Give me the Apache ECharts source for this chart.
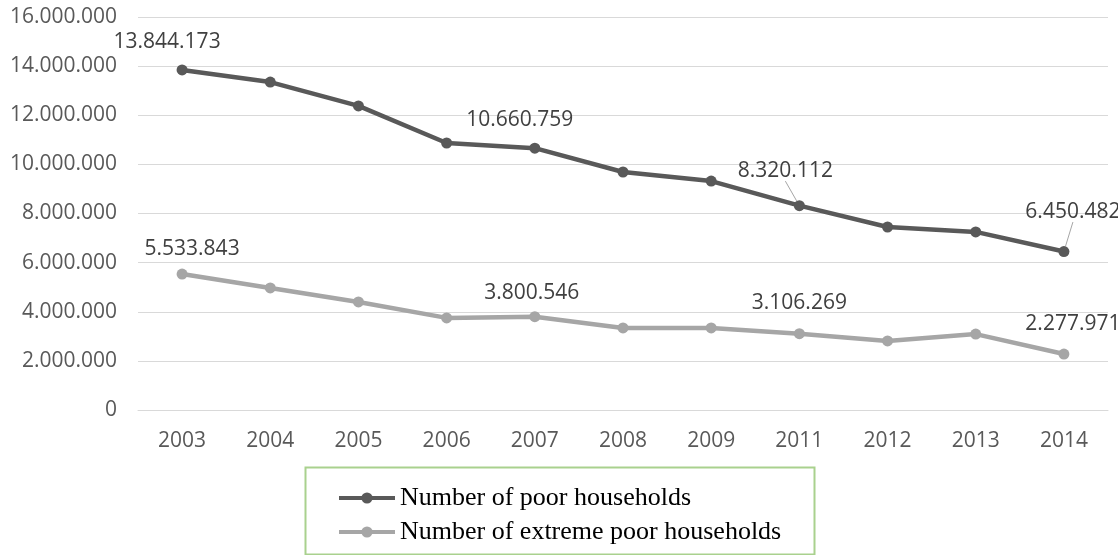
<!DOCTYPE html>
<html>
<head>
<meta charset="utf-8">
<script src="https://cdn.jsdelivr.net/npm/echarts@6/dist/echarts.min.js"></script>
<style>
  html, body { margin: 0; padding: 0; background: #fff; }
  #chart { width: 1118px; height: 555px; }
</style>
</head>
<body>
<div id="chart"></div>
<script>
// Household poverty counts by year
const years = ['2003', '2004', '2005', '2006', '2007', '2008', '2009', '2011', '2012', '2013', '2014'];
const poorHouseholds = [13844173, 13350000, 12380000, 10870000, 10660759, 9690000, 9320000, 8320112, 7450000, 7250000, 6450482];
const extremePoorHouseholds = [5533843, 4970000, 4400000, 3750000, 3800546, 3340000, 3340000, 3106269, 2810000, 3090000, 2277971];
const yTicks = { min: 0, max: 16000000, interval: 2000000 };

// Years whose values are printed on the chart
const labelledIdx = [0, 4, 7, 10];

// Label placement relative to each point (dx, dy) and whether a leader line is drawn
const poorLabelLayout = { 0: [-15, -28], 4: [-15, -28], 7: [-14, -35, true], 10: [9, -40, true] };
const extremeLabelLayout = { 0: [10, -25], 4: [-3, -24], 7: [0, -31], 10: [9, -30] };

const fmt = v => String(Math.round(v)).replace(/\B(?=(\d{3})+(?!\d))/g, '.');

const chart = echarts.init(document.getElementById('chart'), null, { renderer: 'canvas' });

function buildData(values, layout) {
  return values.map((v, i) => {
    const shown = labelledIdx.indexOf(i) >= 0;
    const item = { value: v, label: { show: shown } };
    if (shown && layout[i] && layout[i][2]) {
      item.labelLine = { show: true };
    }
    return item;
  });
}

function labelLayoutFor(layout) {
  return function (params) {
    const l = layout[params.dataIndex];
    if (!l) return {};
    return { dx: l[0], dy: l[1] };
  };
}

const labelStyle = {
  position: 'inside',
  fontFamily: 'Open Sans',
  fontSize: 21,
  color: '#404040',
  formatter: p => fmt(p.value)
};

chart.setOption({
  animation: false,
  backgroundColor: '#ffffff',
  grid: { left: 138, right: 10, top: 17, bottom: 145, containLabel: false },
  xAxis: {
    type: 'category',
    data: years,
    boundaryGap: true,
    axisLine: { show: true, lineStyle: { color: '#d9d9d9', width: 1 } },
    axisTick: { show: false },
    axisLabel: { color: '#595959', fontFamily: 'Open Sans', fontSize: 21, margin: 21 }
  },
  yAxis: {
    type: 'value',
    min: yTicks.min,
    max: yTicks.max,
    interval: yTicks.interval,
    axisLine: { show: false },
    axisTick: { show: false },
    splitLine: { lineStyle: { color: '#d9d9d9', width: 1 } },
    axisLabel: { color: '#595959', fontFamily: 'Open Sans', fontSize: 21, margin: 21, formatter: v => fmt(v) }
  },
  legend: {
    orient: 'vertical',
    left: 332,
    top: 478,
    itemWidth: 56,
    itemHeight: 14,
    itemGap: 4,
    lineStyle: { width: 4 },
    textStyle: { fontFamily: 'Liberation Serif', fontSize: 26, color: '#000000', lineHeight: 30 },
    data: ['Number of poor households', 'Number of extreme poor households']
  },
  graphic: [{
    type: 'rect',
    left: 303,
    top: 465,
    shape: { width: 509, height: 87 },
    style: { fill: 'none', stroke: '#a9d18e', lineWidth: 2 },
    silent: true
  }],
  series: [
    {
      name: 'Number of poor households',
      type: 'line',
      data: buildData(poorHouseholds, poorLabelLayout),
      symbol: 'circle',
      symbolSize: 11,
      lineStyle: { color: '#595959', width: 4.5 },
      itemStyle: { color: '#595959' },
      label: labelStyle,
      labelLine: { show: false, lineStyle: { color: '#a6a6a6', width: 1 } },
      labelLayout: labelLayoutFor(poorLabelLayout),
      z: 3
    },
    {
      name: 'Number of extreme poor households',
      type: 'line',
      data: buildData(extremePoorHouseholds, extremeLabelLayout),
      symbol: 'circle',
      symbolSize: 11,
      lineStyle: { color: '#a6a6a6', width: 4.5 },
      itemStyle: { color: '#a6a6a6' },
      label: labelStyle,
      labelLayout: labelLayoutFor(extremeLabelLayout),
      z: 2
    }
  ]
});
</script>
</body>
</html>
